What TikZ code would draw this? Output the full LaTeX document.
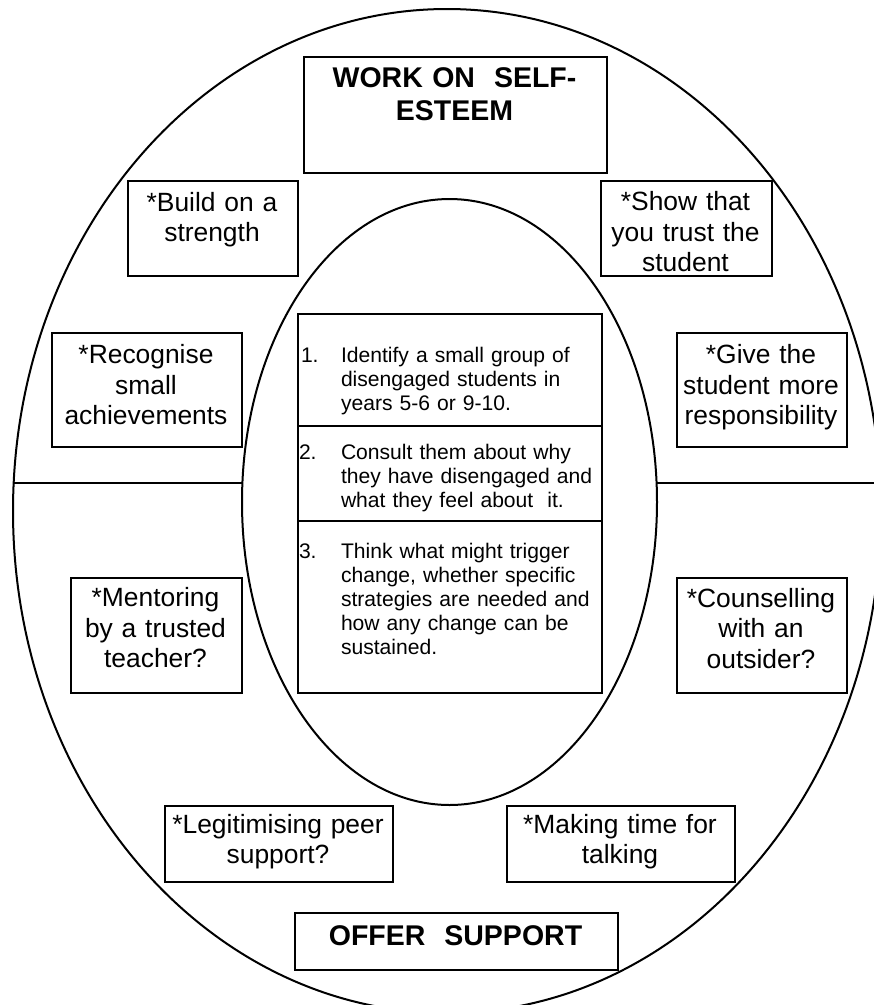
\documentclass[tikz,border=0pt]{standalone}
\usepackage{fontspec}
\setmainfont{Liberation Sans}
\usetikzlibrary{shapes.geometric}
\begin{document}
\begin{tikzpicture}[x=1pt,y=-1pt,line width=2pt,
  box/.style={draw,rectangle,inner sep=0pt,anchor=north west},
  btxt/.style={font=\fontsize{26.4}{30.5}\selectfont,align=center,text width=#1,inner sep=0pt,anchor=base},
  ttxt/.style={font=\fontsize{28.5}{33}\selectfont\bfseries,align=center,text width=#1,inner sep=0pt,anchor=base},
  num/.style={font=\fontsize{21.1}{24}\selectfont,inner sep=0pt,anchor=base west},
  itxt/.style={font=\fontsize{21.1}{24}\selectfont,align=left,text width=258pt,inner sep=0pt,anchor=base west}]
\useasboundingbox (0,0) rectangle (874,1005);
\clip (0,0) rectangle (874,1005);
% ellipses
\draw (447,511) ellipse [x radius=434, y radius=502];
\draw (449.5,502) ellipse [x radius=207.5, y radius=303];
% dividing line
\coordinate (oL) at (13.7,483);
\coordinate (iL) at (242.4,483);
\coordinate (iR) at (656.6,483);
\coordinate (oR) at (874,483);
\draw (oL) -- (iL);
\draw (iR) -- (oR);
% boxes
\node[box,minimum width=303pt,minimum height=116pt] (title) at (303,56) {};
\node[ttxt=300pt] at (454.5,87) {WORK ON\ \ SELF-\\ESTEEM};
\node[box,minimum width=170pt,minimum height=95pt] (build) at (127,180) {};
\node[btxt=168pt] at (212,211) {*Build on a\\strength};
\node[box,minimum width=171pt,minimum height=95pt] (show) at (600,180) {};
\node[btxt=168pt] at (685.5,210.5) {*Show that\\you trust the\\student};
\node[box,minimum width=190pt,minimum height=114pt] (recog) at (51,332) {};
\node[btxt=186pt] at (146,363.5) {*Recognise\\small\\achievements};
\node[box,minimum width=170pt,minimum height=114pt] (give) at (676,332) {};
\node[btxt=168pt] at (761,363.5) {*Give the\\student more\\responsibility};
\node[box,minimum width=171pt,minimum height=115pt] (mentor) at (70,577) {};
\node[btxt=168pt] at (155.5,606.5) {*Mentoring\\by a trusted\\teacher?};
\node[box,minimum width=170pt,minimum height=115pt] (counsel) at (676,577) {};
\node[btxt=168pt] at (761,607) {*Counselling\\with an\\outsider?};
\node[box,minimum width=228pt,minimum height=76pt] (legit) at (164,805) {};
\node[btxt=226pt] at (278,833) {*Legitimising peer\\support?};
\node[box,minimum width=228pt,minimum height=76pt] (making) at (506,805) {};
\node[btxt=226pt] at (620,833) {*Making time for\\talking};
\node[box,minimum width=323pt,minimum height=57pt] (offer) at (294,912) {};
\node[ttxt=320pt] at (455.5,945) {OFFER\ \ SUPPORT};
% central list
\node[box,minimum width=304pt,minimum height=379pt] (steps) at (297,313) {};
\coordinate (d1L) at (297,426);
\coordinate (d1R) at (601,426);
\coordinate (d2L) at (297,521);
\coordinate (d2R) at (601,521);
\draw (d1L) -- (d1R);
\draw (d2L) -- (d2R);
\node[num] at (300,362) {1.};
\node[itxt] at (340,362) {Identify a small group of\\disengaged students in\\years 5-6 or 9-10.};
\node[num] at (298,459.5) {2.};
\node[itxt] at (340,459.5) {Consult them about why\\they have disengaged and\\what they feel about\ \ it.};
\node[num] at (298,558) {3.};
\node[itxt] at (340,558) {Think what might trigger\\change, whether specific\\strategies are needed and\\how any change can be\\sustained.};
\end{tikzpicture}
\end{document}
